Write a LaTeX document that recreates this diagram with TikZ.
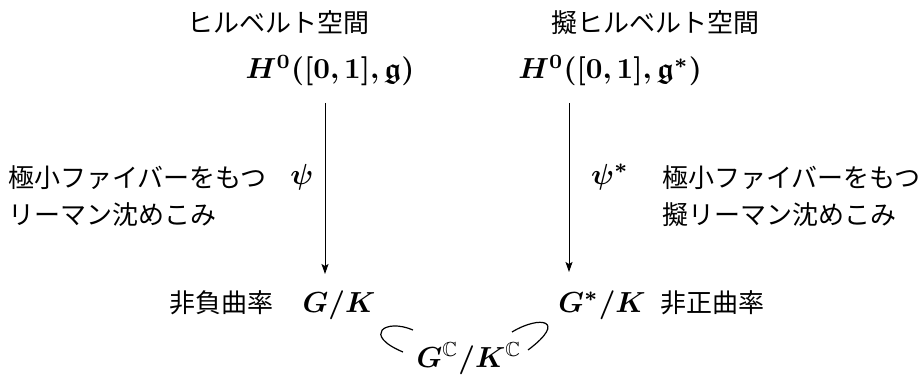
\documentclass[tikz,border=0pt]{standalone}
\usepackage{amsmath,amssymb,bm}
\usepackage{fontspec}
\newfontfamily\jpfont{Noto Sans CJK JP}
\usetikzlibrary{arrows.meta}
\tikzset{
  jp/.style={font=\jpfont\fontsize{26}{30}\selectfont, inner sep=0pt},
  mt/.style={scale=2.9, inner sep=0pt, anchor=base},
  arr/.style={line width=1pt, -{Stealth[length=10pt,width=7pt,inset=2pt]}},
  arc/.style={line width=1.2pt}
}
\begin{document}
\begin{tikzpicture}[x=1pt,y=-1pt]
\useasboundingbox (0,0) rectangle (920,382);
% headings
\node[jp] (hilb) at (278,23) {ヒルベルト空間};
\node[jp] (philb) at (655,23) {擬ヒルベルト空間};
% spaces
\node[mt] (Hl) at (330,79) {$\bm{H^0([0,1],\mathfrak{g})}$};
\node[mt] (Hr) at (610,79) {$\bm{H^0([0,1],\mathfrak{g}^*)}$};
\node[mt] (GK) at (339,312) {$\bm{G/K}$};
\node[mt] (GsK) at (602,312) {$\bm{G^*/K}$};
\node[mt] (GC) at (469,367) {$\bm{G^{\mathbb{C}}/K^{\mathbb{C}}}$};
% side labels
\node[jp] (nonneg) at (221,303) {非負曲率};
\node[jp] (nonpos) at (712,303) {非正曲率};
\node[mt] (psi) at (302,184) {$\bm{\psi}$};
\node[mt] (psis) at (610,184) {$\bm{\psi^*}$};
\node[jp, anchor=west] (l1) at (8,178) {極小ファイバーをもつ};
\node[jp, anchor=west] (l2) at (8,215) {リーマン沈めこみ};
\node[jp, anchor=west] (r1) at (662,178) {極小ファイバーをもつ};
\node[jp, anchor=west] (r2) at (662,215) {擬リーマン沈めこみ};
% arrows
\coordinate (la) at (325,103);
\coordinate (lb) at (325,274);
\coordinate (ra) at (569,103);
\coordinate (rb) at (569,272);
\draw[arr] (la) -- (lb);
\draw[arr] (ra) -- (rb);
% arcs
\coordinate (a1) at (413,330);
\coordinate (a2) at (403,352);
\coordinate (b1) at (512,332);
\coordinate (b2) at (528,350);
\draw[arc] (a1) .. controls (385,318) and (362,335) .. (a2);
\draw[arc] (b1) .. controls (540,315) and (568,320) .. (b2);
\end{tikzpicture}
\end{document}
